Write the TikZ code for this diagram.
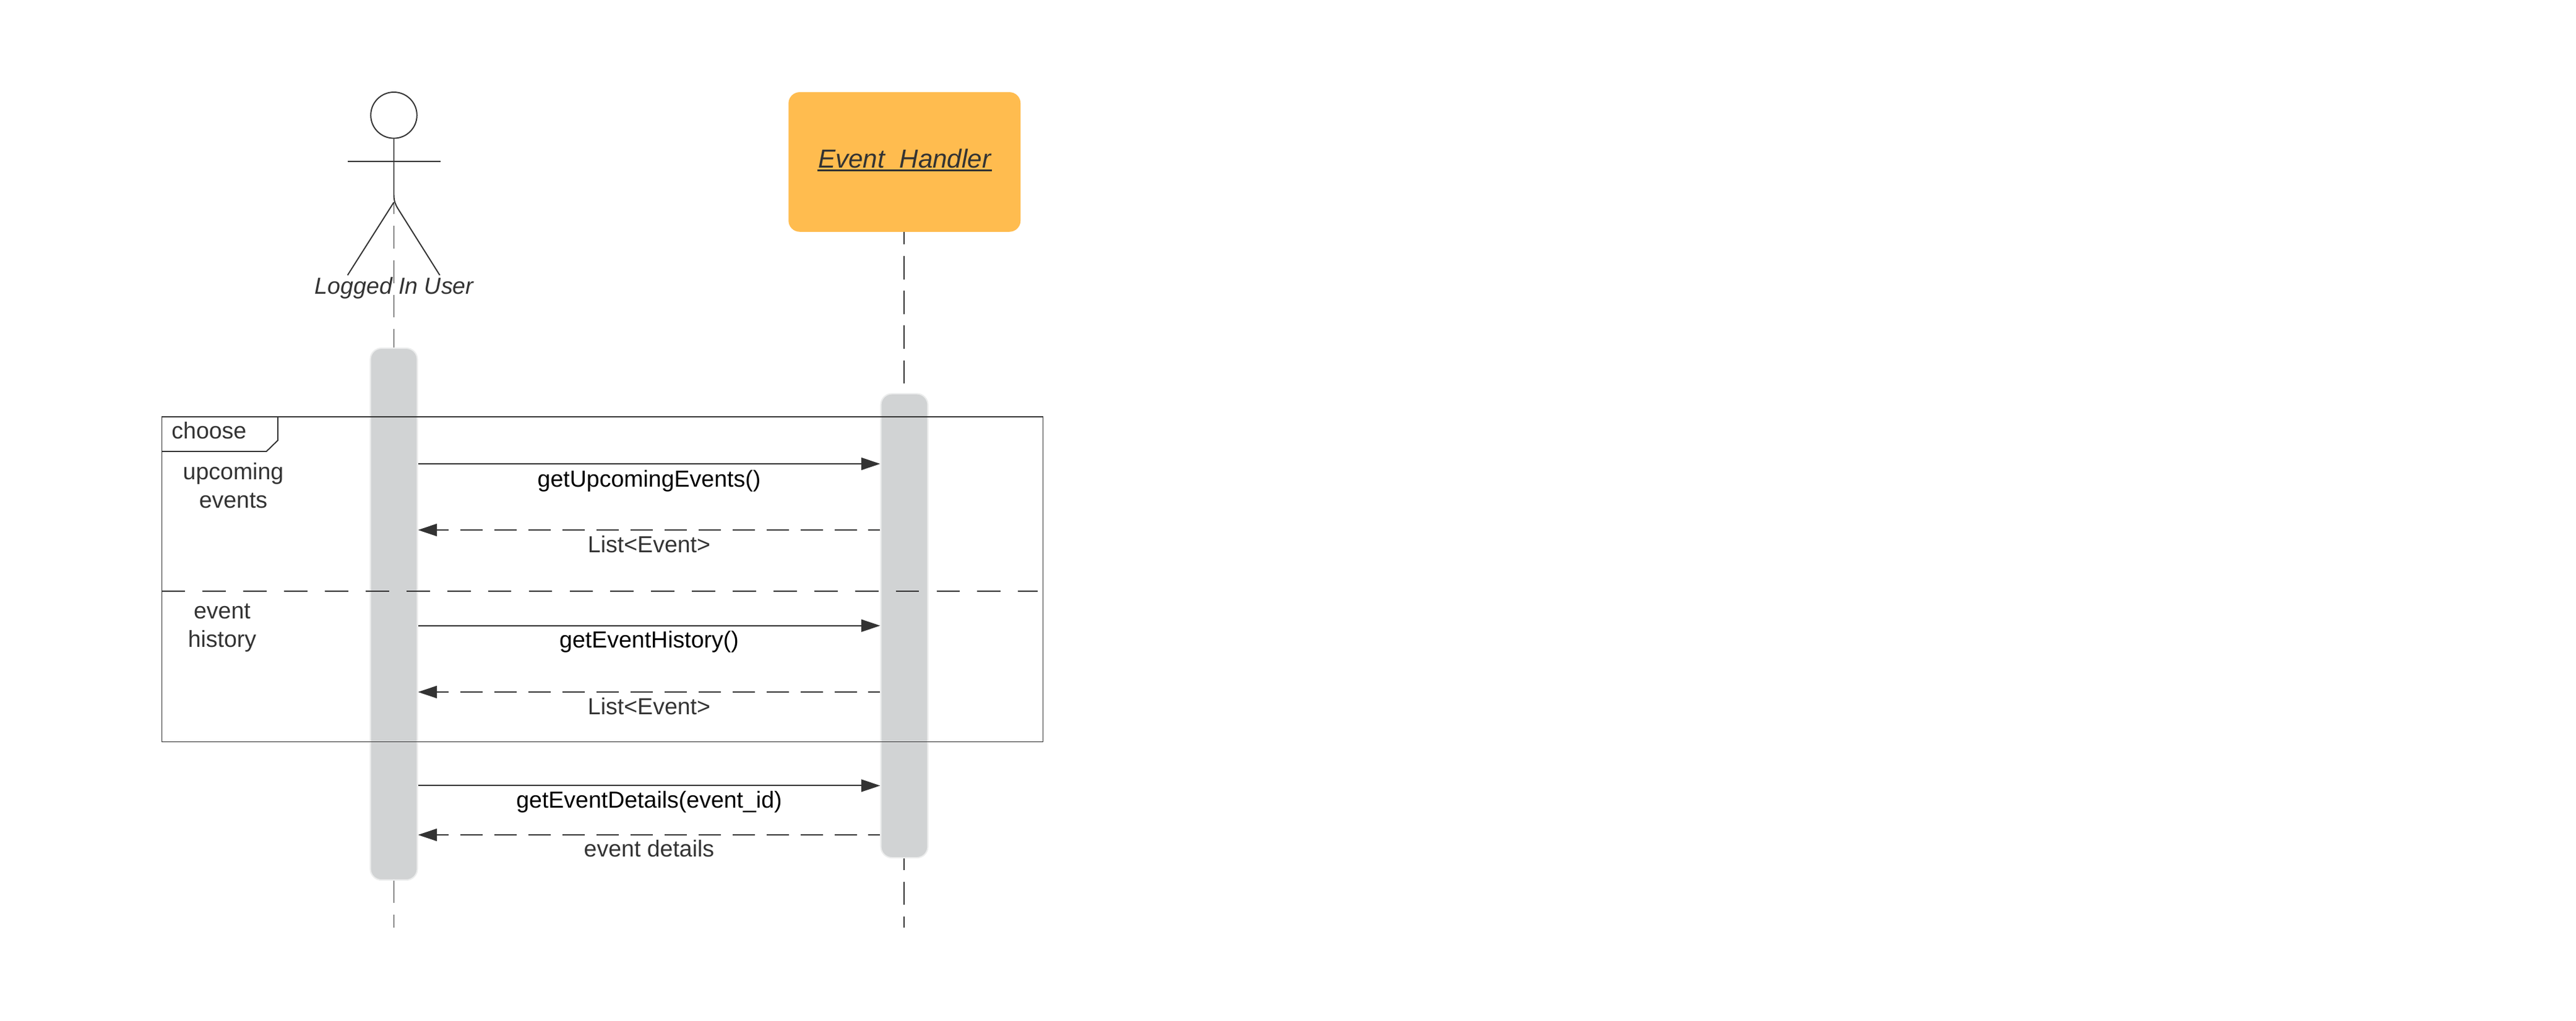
\documentclass[tikz,border=0pt]{standalone}
\usepackage{fontspec}
\setmainfont{Liberation Sans}
\usetikzlibrary{positioning,arrows.meta}
\definecolor{inkgrey}{HTML}{333333}
\definecolor{boxorange}{HTML}{FFBC4F}
\definecolor{barfill}{HTML}{D1D3D4}
\definecolor{baredge}{HTML}{ECEDED}
\newcommand{\barunder}[1]{\setbox0=\hbox{#1}\rlap{\kern-0.5pt\rule[-1.75pt]{\dimexpr\wd0+1pt\relax}{0.85pt}}\box0}
\tikzset{
  lbl/.style={inner sep=0, text=inkgrey, font=\fontsize{10.67pt}{13pt}\selectfont, align=center},
  msglbl/.style={lbl, text=black},
  actbar/.style={rectangle, rounded corners=0.18cm, fill=barfill, draw=baredge, line width=0.6pt, minimum width=0.76cm, inner sep=0},
  lifeline/.style={draw=inkgrey, line width=0.55pt, dash pattern=on 10.66pt off 5.33pt, dash phase=5pt},
  call/.style={draw=inkgrey, line width=0.6pt, -{Triangle[length=0.306cm,width=0.2cm]}},
  reply/.style={call, dash pattern=on 10.24pt off 5.4pt, dash phase=4.84pt},
  actorline/.style={draw=inkgrey, line width=0.55pt},
  frameline/.style={draw=inkgrey, line width=0.4pt}
}
\begin{document}
\begin{tikzpicture}
\useasboundingbox (0,0) rectangle (41.63,-16.5);
% lifelines and activation bars
\node (head) [circle, actorline, minimum size=0.746cm, inner sep=0] at (6.365,-1.863) {};
\node (box) [rectangle, rounded corners=0.18cm, fill=boxorange, minimum width=3.75cm, minimum height=2.257cm, inner sep=0] at (14.618,-2.619) {};
\coordinate (hip) at (6.365,-3.27);
\coordinate (userend) at (6.365,-15);
\coordinate (boxend) at (14.609,-15);
\draw [lifeline, line width=0.35pt, dash pattern=on 10.45pt off 5.4pt] (hip)--(userend);
\draw [lifeline] (box.south -| boxend)--(boxend);
\node (userbar) [actbar, minimum height=8.6cm] at (6.365,-9.93) {};
\node (handlerbar) [actbar, minimum height=7.505cm] at (14.615,-10.118) {};
% actor
\coordinate (handl) at (5.616,-2.606);
\coordinate (handr) at (7.118,-2.606);
\coordinate (footl) at (5.617,-4.45);
\coordinate (footr) at (7.107,-4.45);
\draw [actorline] (handl)--(handr);
\draw [actorline] (head.south)--(6.365,-3.15) .. controls (6.365,-3.25) and (6.39,-3.31) .. (6.435,-3.38)--(footr);
\draw [actorline] (hip)--(footl);
\node (userlbl) [lbl, font=\fontsize{10.67pt}{13pt}\selectfont\itshape] at (6.37,-4.66) {Logged In User};
\node (boxlbl) [lbl, font=\fontsize{12pt}{14pt}\selectfont\itshape, yshift=0.03cm] at (box.center) {\barunder{Event\_Handler}};
% choose frame
\coordinate (fnw) at (2.615,-6.74);
\coordinate (fse) at (16.857,-11.995);
\draw [frameline] (fnw) rectangle (fse);
\draw [actorline] (4.49,-6.74)--(4.49,-7.12)--(4.305,-7.30)--(2.615,-7.30);
\coordinate (divl) at (2.615,-9.56);
\coordinate (divr) at (16.77,-9.56);
\draw [actorline, dash pattern=on 10.75pt off 8pt] (divl)--(divr);
\node (choose) [lbl, anchor=west] at (2.767,-6.96) {choose};
\node (upcoming) [lbl] at (3.77,-7.85) {upcoming\\[0.1pt]events};
\node (history) [lbl] at (3.59,-10.15) {event\\[0.1pt]history};
% messages
\coordinate (m1) at (0,-7.5);
\coordinate (m2) at (0,-8.57);
\coordinate (m3) at (0,-10.117);
\coordinate (m4) at (0,-11.19);
\coordinate (m5) at (0,-12.704);
\coordinate (m6) at (0,-13.5);
\draw [call] (userbar.east |- m1)--(handlerbar.west |- m1);
\draw [reply] (handlerbar.west |- m2)--(userbar.east |- m2);
\draw [call] (userbar.east |- m3)--(handlerbar.west |- m3);
\draw [reply] (handlerbar.west |- m4)--(userbar.east |- m4);
\draw [call] (userbar.east |- m5)--(handlerbar.west |- m5);
\draw [reply] (handlerbar.west |- m6)--(userbar.east |- m6);
\node (msga) [msglbl] at (10.49,-7.78) {getUpcomingEvents()};
\node (msgb) [lbl] at (10.49,-8.80) {List<Event>};
\node (msgc) [msglbl] at (10.49,-10.38) {getEventHistory()};
\node (msgd) [lbl] at (10.49,-11.42) {List<Event>};
\node (msge) [msglbl] at (10.49,-12.97) {getEventDetails(event\_id)};
\node (msgf) [lbl] at (10.49,-13.72) {event details};
\end{tikzpicture}
\end{document}
